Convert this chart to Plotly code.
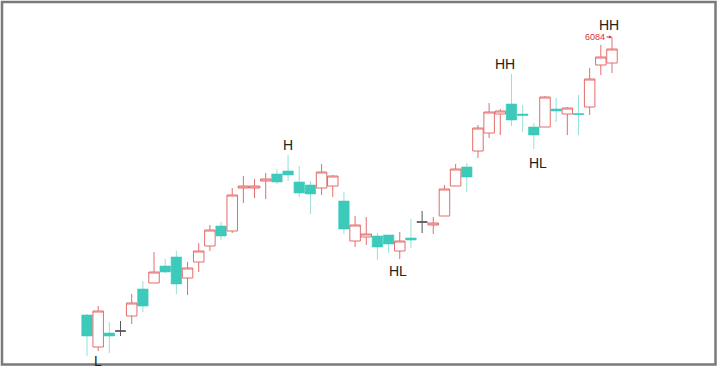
import plotly.graph_objects as go

# OHLC values (price scale anchored on the 6084 label)
opens = [5750.4, 5712.0, 5728.8, 5731.2, 5749.2, 5781.6, 5788.8, 5809.2, 5820.0, 5794.8,
         5814.0, 5833.2, 5857.2, 5851.2, 5902.8, 5902.8, 5911.2, 5919.6, 5923.2, 5910.0,
         5906.4, 5902.8, 5905.2, 5887.2, 5839.2, 5844.0, 5845.2, 5846.4, 5827.2, 5842.8,
         5862.0, 5858.4, 5869.2, 5905.2, 5928.0, 5947.2, 5968.8, 5991.6, 6003.6, 5991.6,
         5976.0, 5976.0, 5997.6, 5991.6, 5992.2, 6000.0, 6050.4, 6052.8]
highs = [5751.6, 5761.2, 5742.0, 5743.2, 5775.6, 5791.2, 5826.0, 5817.6, 5827.2, 5814.0,
         5836.8, 5858.4, 5862.0, 5902.8, 5917.2, 5913.6, 5920.8, 5925.6, 5942.4, 5929.2,
         5911.2, 5931.6, 5918.4, 5898.0, 5869.2, 5868.0, 5848.8, 5846.4, 5850.0, 5865.6,
         5875.2, 5868.0, 5906.4, 5931.6, 5932.8, 5978.4, 6004.8, 5997.6, 6039.6, 6002.4,
         5980.8, 6013.2, 6010.8, 6000.0, 6014.4, 6046.8, 6074.4, 6084.0]
lows = [5701.2, 5707.2, 5704.8, 5725.2, 5739.6, 5754.0, 5788.8, 5800.8, 5775.6, 5774.4,
        5802.0, 5827.2, 5840.4, 5848.8, 5884.8, 5890.8, 5889.6, 5907.6, 5911.2, 5892.0,
        5871.6, 5894.4, 5892.0, 5847.6, 5832.0, 5834.4, 5816.4, 5824.8, 5817.6, 5830.8,
        5848.8, 5847.6, 5869.2, 5905.2, 5898.0, 5938.8, 5962.8, 5966.4, 5977.2, 5970.0,
        5949.6, 5976.0, 5982.0, 5966.4, 5966.4, 5990.4, 6038.4, 6040.8]
closes = [5725.2, 5755.2, 5725.2, 5731.2, 5764.8, 5761.2, 5802.0, 5802.0, 5787.6, 5806.8,
          5827.2, 5852.4, 5845.2, 5894.4, 5905.2, 5905.2, 5913.6, 5910.0, 5918.4, 5896.8,
          5895.6, 5922.0, 5917.2, 5853.6, 5858.4, 5847.6, 5832.0, 5835.6, 5839.2, 5840.4,
          5862.0, 5860.8, 5901.6, 5925.6, 5916.0, 5974.8, 5994.0, 5995.2, 5984.4, 5989.8,
          5966.4, 6012.0, 5995.2, 5998.8, 5991.0, 6033.6, 6060.0, 6069.6]

# swing labels: (candle index, text, position)
pivots = [(1, "L", "below"), (18, "H", "above"), (28, "HL", "below"),
          (38, "HH", "above"), (40, "HL", "below"), (47, "HH", "above")]
pivot_xshift = {28: -2, 38: -6, 40: 4, 47: -3}
pivot_yshift = {1: 0, 18: 0, 28: -2, 38: 0, 40: -4, 47: 2}

RED = "#e46c6c"
TEAL = "#3ccbbb"
TEAL_LINE = "rgba(60,200,185,0.55)"
DOJI = "#555555"

idx = list(range(len(opens)))
main = [i for i in idx if opens[i] != closes[i]]
doji = [i for i in idx if opens[i] == closes[i]]

fig = go.Figure()
fig.add_trace(go.Candlestick(
    x=main,
    open=[opens[i] for i in main], high=[highs[i] for i in main],
    low=[lows[i] for i in main], close=[closes[i] for i in main],
    increasing=dict(line=dict(color=RED, width=1), fillcolor="white"),
    decreasing=dict(line=dict(color=TEAL_LINE, width=1), fillcolor=TEAL),
    whiskerwidth=0, showlegend=False, hoverinfo="none",
))
fig.add_trace(go.Candlestick(
    x=doji,
    open=[opens[i] for i in doji], high=[highs[i] for i in doji],
    low=[lows[i] for i in doji], close=[closes[i] for i in doji],
    increasing=dict(line=dict(color=DOJI, width=1), fillcolor=DOJI),
    decreasing=dict(line=dict(color=DOJI, width=1), fillcolor=DOJI),
    whiskerwidth=0, showlegend=False, hoverinfo="none",
))

for i, txt, pos in pivots:
    above = pos == "above"
    fig.add_annotation(
        x=i, y=highs[i] if above else lows[i], text=txt, showarrow=False,
        yanchor="bottom" if above else "top", yshift=pivot_yshift.get(i, 0),
        xshift=pivot_xshift.get(i, 0),
        font=dict(family="Liberation Sans, Arial", size=14, color="#222222"),
    )

last = len(highs) - 1
fig.add_annotation(
    x=last, y=highs[last], text=f"{highs[last]:.0f}", showarrow=True,
    ax=-17, ay=0, arrowhead=2, arrowsize=0.6, arrowwidth=1, arrowcolor="#e03030",
    font=dict(family="Liberation Sans, Arial", size=9, color="#e03030"),
)

fig.add_shape(type="rect", xref="paper", yref="paper", layer="below",
              x0=2 / 720, x1=715.5 / 720, y0=4.5 / 369, y1=367 / 369,
              line=dict(color="#7a7a7a", width=2.5))

fig.update_layout(
    width=720, height=369, margin=dict(l=0, r=0, t=0, b=0),
    paper_bgcolor="white", plot_bgcolor="white", boxgap=0.06, boxgroupgap=0,
    xaxis=dict(range=[-7.79, 56.67], visible=False, rangeslider=dict(visible=False)),
    yaxis=dict(range=[5685.6, 6128.4], visible=False),
)

fig.write_html(
    "out.html",
    config={"displayModeBar": False},
    post_script="document.body.style.margin='0';document.body.style.overflow='hidden';",
)
